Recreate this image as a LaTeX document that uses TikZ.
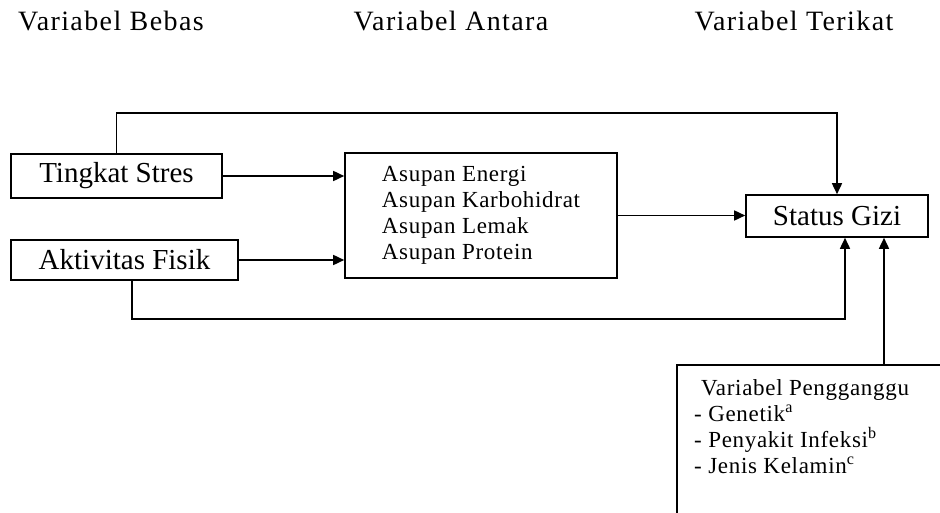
\documentclass[tikz,border=0pt]{standalone}
\usepackage{fontspec}
\setmainfont{Liberation Serif}
\usetikzlibrary{arrows.meta}

\begin{document}
\begin{tikzpicture}[x=1pt,y=-1pt,>={Triangle[length=11pt,width=10pt]},
  box/.style={draw,line width=1.6pt,inner sep=0pt},
  big/.style={font=\fontsize{29}{34}\selectfont},
  hdr/.style={font=\fontsize{28}{33}\selectfont\addfontfeature{LetterSpace=5}},
  lst/.style={align=left,inner sep=0pt,font=\fontsize{23}{26}\selectfont\addfontfeature{LetterSpace=3}},
  conn/.style={line width=1.6pt}]
\path[use as bounding box,clip] (0,0) rectangle (940,513);
% headings
\node[hdr] (bebas) at (111,21) {Variabel Bebas};
\node[hdr] (antara) at (451,21) {Variabel Antara};
\node[hdr] (terikat) at (794,21) {Variabel Terikat};
% boxes
\node[box,big,minimum width=211pt,minimum height=44pt] (stres) at (116.5,176) {Tingkat Stres};
\node[box,big,minimum width=227pt,minimum height=40pt] (fisik) at (124.5,260) {Aktivitas Fisik};
\node[box,lst,minimum width=272pt,minimum height=125pt] (asupan) at (481,215.5)
  {Asupan Energi\\Asupan Karbohidrat\\Asupan Lemak\\Asupan Protein};
\node[box,big,minimum width=182pt,minimum height=42pt] (gizi) at (837,216) {Status Gizi};
\node[box,anchor=north west,minimum width=280pt,minimum height=170pt] (ganggu) at (676,364) {};
\node[lst,anchor=north west] (gangguTxt) at (694,379)
  {\hspace{7pt}Variabel Pengganggu\\- Genetik\textsuperscript{a}\\- Penyakit Infeksi\textsuperscript{b}\\- Jenis Kelamin\textsuperscript{c}};
% arrows
\draw[conn,->] (stres.east) -- (stres.east -| asupan.west);
\draw[conn,->] (fisik.east) -- (fisik.east -| asupan.west);
\draw[conn,->] (asupan.east) -- (asupan.east -| gizi.west);
\draw[conn,->] (stres.north) -- ++(0,-40) -| (gizi.north);
\draw[conn,->] ([xshift=7.5pt]fisik.south) -- ++(0,38) -| ([xshift=8pt]gizi.south);
\draw[conn,->] ([xshift=47pt]gizi.south |- ganggu.north) -- ([xshift=47pt]gizi.south);
\end{tikzpicture}
\end{document}
